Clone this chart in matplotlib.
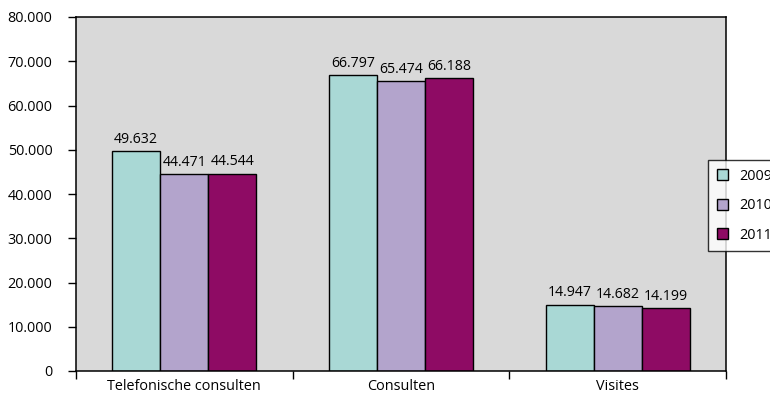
import numpy as np
import matplotlib.pyplot as plt
from matplotlib.ticker import FuncFormatter

plt.rcParams['font.family'] = ['Open Sans', 'DejaVu Sans']

# gegevens
categorieen = ["Telefonische consulten", "Consulten", "Visites"]
jaren = ["2009", "2010", "2011"]
waarden_2009 = [49632, 66797, 14947]
waarden_2010 = [44471, 65474, 14682]
waarden_2011 = [44544, 66188, 14199]
kleuren = ["#A9D8D5", "#B3A4CC", "#8E0B64"]

reeksen = [waarden_2009, waarden_2010, waarden_2011]


def punt(v):
    return f"{v:,.0f}".replace(",", ".")


fig = plt.figure(figsize=(7.7, 3.96), dpi=100)
ax = fig.add_axes([76 / 770, 1 - 371 / 396, 650 / 770, 354 / 396])
ax.set_facecolor("#D9D9D9")

x = np.arange(len(categorieen)) + 0.5
breedte = 0.222

for i, (jaar, waarden) in enumerate(zip(jaren, reeksen)):
    pos = x + (i - 1) * breedte
    ax.bar(pos, waarden, breedte, color=kleuren[i], edgecolor="black",
           linewidth=1.0, label=jaar, zorder=2)
    for p, v in zip(pos, waarden):
        ax.text(p, v + 1000, punt(v), ha="center", va="bottom", fontsize=10.2)

ax.set_xlim(0, 3)
ax.set_ylim(0, 80000)
ax.set_yticks(range(0, 80001, 10000))
ax.yaxis.set_major_formatter(FuncFormatter(lambda v, _: punt(v)))
ax.tick_params(axis="y", direction="out", length=6, width=1.0, labelsize=10.4, pad=11)

ax.set_xticks([0, 1, 2, 3])
ax.set_xticklabels([])
ax.set_xticks(x, minor=True)
ax.set_xticklabels(categorieen, minor=True, fontsize=10.4)
ax.tick_params(axis="x", which="major", direction="out", length=6, width=1.0)
ax.tick_params(axis="x", which="minor", length=0, pad=6)

for s in ax.spines.values():
    s.set_linewidth(1.1)

leg = ax.legend(loc="upper left", bbox_to_anchor=(708 / 770, 1 - 160 / 396),
                bbox_transform=fig.transFigure, frameon=True, fancybox=False,
                edgecolor="black", fontsize=10.4, handlelength=0.8, handleheight=0.8,
                handletextpad=0.75, labelspacing=1.0, borderpad=0.6,
                borderaxespad=0)
leg.get_frame().set_linewidth(1.0)
leg.set_zorder(5)

fig.savefig("out.png", dpi=100)
